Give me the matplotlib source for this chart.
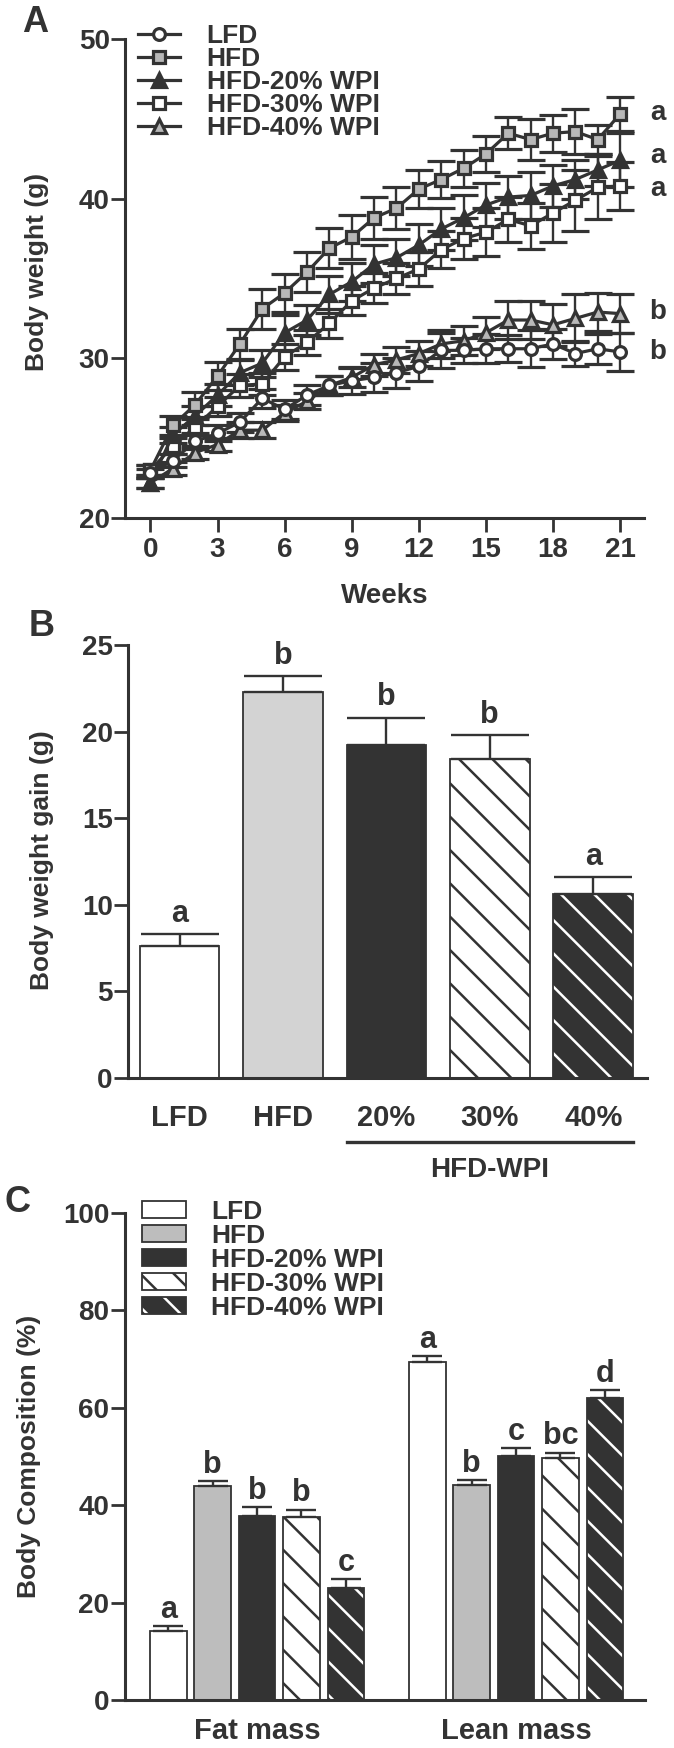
import matplotlib
matplotlib.use('Agg')
import matplotlib.pyplot as plt
import matplotlib.transforms as mtransforms
from matplotlib.lines import Line2D
from matplotlib.patches import Patch
import numpy as np

plt.rcParams['font.family'] = ['Liberation Sans', 'DejaVu Sans']
plt.rcParams['font.weight'] = 'bold'
plt.rcParams['hatch.linewidth'] = 1.8

W, H = 674, 1748
DARK = '#333333'
GREY_MK = '#b8b8b8'

# ---------- data : panel A (body weight, g) ----------
weeks = np.arange(22)
lfd = [22.8, 23.6, 24.8, 25.3, 26.0, 27.5, 26.8, 27.7, 28.3, 28.6, 28.8,
       29.1, 29.5, 30.5, 30.5, 30.6, 30.6, 30.6, 30.9, 30.3, 30.6, 30.4]
lfd_err = [0.3, 0.4, 0.5, 0.5, 0.6, 0.6, 0.6, 0.6, 0.6, 0.85, 0.9,
           0.95, 0.95, 1.1, 0.8, 0.9, 0.85, 1.15, 0.95, 0.8, 0.95, 1.2]
hfd = [23.0, 25.8, 27.1, 28.9, 30.9, 33.1, 34.1, 35.4, 36.9, 37.6, 38.8,
       39.4, 40.6, 41.2, 41.9, 42.8, 44.1, 43.7, 44.1, 44.2, 43.7, 45.3]
hfd_err = [0.3, 0.6, 0.8, 0.9, 0.95, 1.25, 1.2, 1.25, 1.25, 1.4, 1.3,
           1.3, 1.2, 1.15, 1.15, 1.15, 1.0, 1.3, 1.15, 1.4, 0.9, 1.05]
wpi20 = [22.2, 25.2, 26.4, 27.7, 29.1, 29.7, 31.6, 32.4, 34.0, 34.8, 35.9,
         36.3, 37.1, 38.1, 38.8, 39.6, 40.1, 40.2, 40.8, 41.2, 41.8, 42.4]
wpi20_err = [0.3, 0.5, 0.6, 0.7, 0.8, 0.85, 1.1, 0.95, 1.15, 1.2, 1.2,
             1.15, 1.3, 1.3, 1.4, 1.35, 1.35, 1.5, 1.3, 1.2, 1.0, 1.7]
wpi30 = [23.0, 24.5, 25.7, 27.0, 28.3, 28.4, 30.1, 31.0, 32.2, 33.6, 34.4,
         35.0, 35.6, 36.8, 37.5, 37.9, 38.7, 38.3, 39.1, 39.9, 40.7, 40.8]
wpi30_err = [0.3, 0.5, 0.5, 0.6, 0.7, 0.7, 0.8, 0.8, 0.9, 0.9, 0.95,
             1.0, 1.05, 1.15, 1.3, 1.5, 1.4, 1.45, 1.8, 1.9, 2.0, 1.5]
wpi40 = [22.2, 23.1, 24.1, 24.6, 25.5, 25.5, 26.6, 27.3, 28.3, 28.8, 29.6,
         29.9, 30.3, 30.9, 31.1, 31.6, 32.4, 32.4, 32.1, 32.5, 32.9, 32.8]
wpi40_err = [0.3, 0.4, 0.4, 0.4, 0.5, 0.5, 0.5, 0.5, 0.6, 0.6, 0.7,
             0.8, 0.8, 0.9, 0.9, 1.0, 1.2, 1.2, 1.3, 1.5, 1.2, 1.2]
end_letters = ['b', 'a', 'a', 'a', 'b']   # LFD, HFD, 20%, 30%, 40%

# ---------- data : panel B (body weight gain, g) ----------
gain_labels = ['LFD', 'HFD', '20%', '30%', '40%']
gain = [7.6, 22.3, 19.2, 18.4, 10.6]
gain_err = [0.7, 0.9, 1.6, 1.4, 1.0]
gain_letters = ['a', 'b', 'b', 'b', 'a']

# ---------- data : panel C (body composition, %) ----------
diets = ['LFD', 'HFD', 'HFD-20% WPI', 'HFD-30% WPI', 'HFD-40% WPI']
comp_groups = ['Fat mass', 'Lean mass']
fat = [14.2, 43.9, 37.8, 37.6, 23.0]
fat_err = [1.0, 1.0, 1.8, 1.5, 1.8]
lean = [69.4, 44.1, 50.1, 49.6, 62.0]
lean_err = [1.2, 1.0, 1.6, 1.2, 1.6]
fat_letters = ['a', 'b', 'b', 'b', 'c']
lean_letters = ['a', 'b', 'c', 'bc', 'd']

TICK_FS = 20
LEG_FS = 19
LET_FS = 22


def ax_px(left, top, right, bottom):
    return [left / W, 1 - bottom / H, (right - left) / W, (bottom - top) / H]


def style_axis(ax):
    for s in ['top', 'right']:
        ax.spines[s].set_visible(False)
    for s in ['left', 'bottom']:
        ax.spines[s].set_linewidth(2.2)
        ax.spines[s].set_color(DARK)
    ax.tick_params(colors=DARK, width=2.0, length=10, labelsize=TICK_FS)
    ax.tick_params(axis='y', pad=1)


fig = plt.figure(figsize=(W / 100, H / 100), dpi=100)

# ================= panel A =================
axA = fig.add_axes(ax_px(125, 39, 644, 518))
style_axis(axA)
series = [
    (wpi40, wpi40_err, '^', GREY_MK, 10.5),
    (wpi30, wpi30_err, 's', 'white', 9),
    (wpi20, wpi20_err, '^', DARK, 10.5),
    (hfd, hfd_err, 's', GREY_MK, 9),
    (lfd, lfd_err, 'o', 'white', 8.5),
]
for vals, err, mk, fc, ms in series:
    axA.errorbar(weeks, vals, yerr=err, color=DARK, lw=2.3, marker=mk,
                 ms=ms, mfc=fc, mec=DARK, mew=2.3, capsize=10, capthick=1.7,
                 elinewidth=1.7, clip_on=False)
axA.set_xlim(-1.14, 22.07)
axA.set_ylim(20, 50)
axA.set_yticks([20, 30, 40, 50])
axA.set_xticks(range(0, 22, 3))
axA.tick_params(axis='x', pad=4)
fig.text(385 / W, 1 - 596 / H, 'Weeks', ha='center', va='center',
         fontsize=20, color=DARK)

end_vals = [lfd[-1], hfd[-1], wpi20[-1], wpi30[-1], wpi40[-1]]
end_nudge = [0, 1, 3, -2.5, 1]   # points, keeps the stacked letters apart
for v, lt, dy in zip(end_vals, end_letters, end_nudge):
    axA.annotate(lt, xy=(21, v), xytext=(27, dy), textcoords='offset points',
                 ha='center', va='center', fontsize=20, color=DARK)

handles = []
for _, _, mk, fc, ms in reversed(series):
    handles.append(Line2D([], [], color=DARK, lw=2.3, marker=mk, ms=ms,
                          mfc=fc, mec=DARK, mew=2.3))
fig.legend(handles, diets, loc='upper left',
           bbox_to_anchor=(138 / W, 1 - 24 / H), frameon=False,
           fontsize=LEG_FS, borderpad=0, borderaxespad=0, labelspacing=-0.04,
           handlelength=1.6, handletextpad=1.0, labelcolor=DARK)

# ================= panel B =================
axB = fig.add_axes(ax_px(128, 645, 647, 1078))
style_axis(axB)
xb = np.arange(len(gain))
bw = 0.77
b_face = ['white', '#d3d3d3', DARK, 'white', DARK]
b_hatch = [None, None, None, '\\', '\\']
b_hcol = [DARK, DARK, DARK, DARK, 'white']
for i in range(len(gain)):
    axB.bar(xb[i], gain[i], bw, facecolor=b_face[i], edgecolor=b_hcol[i],
            hatch=b_hatch[i], linewidth=0)
    axB.bar(xb[i], gain[i], bw, fill=False, edgecolor=DARK, linewidth=1.3)
axB.errorbar(xb, gain, yerr=[np.zeros(len(gain)), gain_err], fmt='none',
             ecolor=DARK, elinewidth=1.7, capsize=28, capthick=1.7)
for i in range(len(gain)):
    axB.annotate(gain_letters[i], xy=(xb[i], gain[i] + gain_err[i]),
                 xytext=(0, 9), textcoords='offset points', ha='center',
                 va='baseline', fontsize=LET_FS, color=DARK)
axB.set_xlim(-0.498, 4.52)
axB.set_ylim(0, 25)
axB.set_yticks(range(0, 26, 5))
axB.set_xticks(xb)
axB.set_xticklabels(gain_labels, fontsize=21)
axB.tick_params(axis='x', length=0, pad=19)
tb = mtransforms.blended_transform_factory(axB.transData, axB.transAxes)
axB.plot([2 - bw / 2, 4 + bw / 2], [-0.148, -0.148], color=DARK, lw=2.4,
         transform=tb, clip_on=False)
axB.text(3, -0.2125, 'HFD-WPI', transform=tb, ha='center', va='center',
         fontsize=20, color=DARK)

# ================= panel C =================
axC = fig.add_axes(ax_px(124.7, 1213, 645, 1700))
style_axis(axC)
off = 0.1714
cw = 0.141
c_face = ['white', '#bdbdbd', DARK, 'white', DARK]
gpos = np.arange(len(comp_groups))
for i in range(len(diets)):
    xs = gpos + (i - 2) * off
    vals = [fat[i], lean[i]]
    errs = [fat_err[i], lean_err[i]]
    axC.bar(xs, vals, cw, facecolor=c_face[i], edgecolor=b_hcol[i],
            hatch=b_hatch[i], linewidth=0)
    axC.bar(xs, vals, cw, fill=False, edgecolor=DARK, linewidth=1.3)
    axC.errorbar(xs, vals, yerr=[[0, 0], errs], fmt='none', ecolor=DARK,
                 elinewidth=1.7, capsize=11, capthick=1.7)
    for x, v, e, lt in zip(xs, vals, errs, [fat_letters[i], lean_letters[i]]):
        axC.annotate(lt, xy=(x, v + e), xytext=(0, 6),
                     textcoords='offset points', ha='center', va='baseline',
                     fontsize=LET_FS, color=DARK)
axC.set_xlim(-0.511, 1.498)
axC.set_ylim(0, 100)
axC.set_yticks(range(0, 101, 20))
axC.set_xticks(gpos)
axC.set_xticklabels(comp_groups, fontsize=21)
axC.tick_params(axis='x', length=0, pad=12)

c_handles = []
for i in range(len(diets)):
    p1 = Patch(facecolor=c_face[i], edgecolor=b_hcol[i], hatch=b_hatch[i],
               linewidth=0)
    p2 = Patch(fill=False, edgecolor=DARK, linewidth=1.3)
    c_handles.append((p1, p2))
fig.legend(c_handles, diets, loc='upper left',
           bbox_to_anchor=(142 / W, 1 - 1200 / H), frameon=False,
           fontsize=LEG_FS, borderpad=0, borderaxespad=0, labelspacing=0.0,
           handlelength=1.67, handleheight=0.6, handletextpad=0.95,
           labelcolor=DARK)

# ---------- axis titles and panel letters ----------
fig.text(37 / W, 1 - 272 / H, 'Body weight (g)', rotation=90, ha='center',
         va='center', fontsize=19, color=DARK)
fig.text(42 / W, 1 - 860 / H, 'Body weight gain (g)', rotation=90,
         ha='center', va='center', fontsize=19, color=DARK)
fig.text(29 / W, 1 - 1456 / H, 'Body Composition (%)', rotation=90,
         ha='center', va='center', fontsize=19, color=DARK)
fig.text(35 / W, 1 - 22 / H, 'A', ha='center', va='center', fontsize=26,
         color=DARK)
fig.text(42 / W, 1 - 627 / H, 'B', ha='center', va='center', fontsize=26,
         color=DARK)
fig.text(18 / W, 1 - 1202 / H, 'C', ha='center', va='center', fontsize=26,
         color=DARK)

fig.savefig('out.png', dpi=100)
